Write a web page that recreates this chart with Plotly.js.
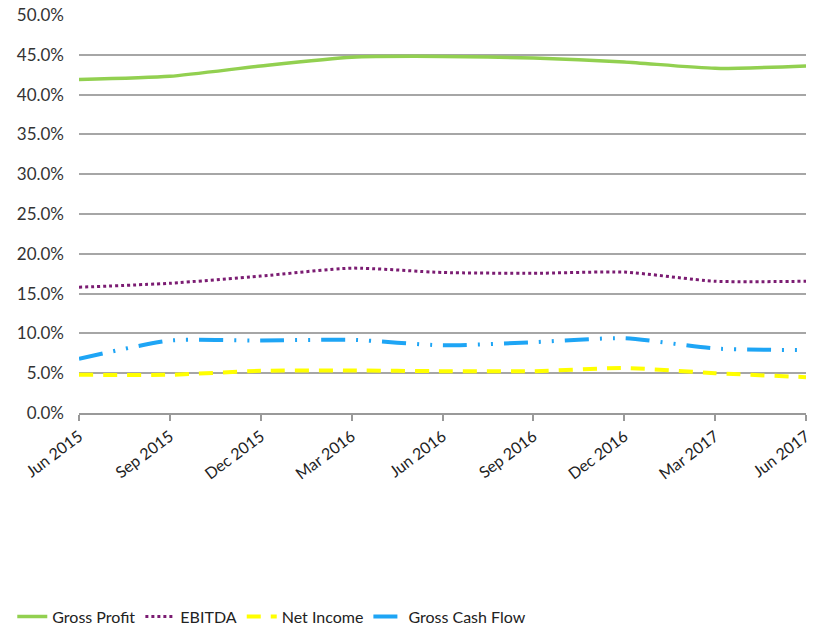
<!DOCTYPE html>
<html>
<head>
<meta charset="utf-8">
<script src="https://cdn.plot.ly/plotly-3.0.1.min.js"></script>
<style>html,body{margin:0;padding:0;background:#fff;}#chart{width:819px;height:628px;}</style>
</head>
<body>
<div id="chart"></div>
<script>
const categories = ["Jun 2015","Sep 2015","Dec 2015","Mar 2016","Jun 2016","Sep 2016","Dec 2016","Mar 2017","Jun 2017"];
const grossProfit = [0.419,0.423,0.436,0.447,0.448,0.446,0.441,0.433,0.436];
const ebitda = [0.158,0.163,0.172,0.182,0.1765,0.1755,0.177,0.1655,0.1655];
const netIncome = [0.048,0.048,0.053,0.0535,0.0525,0.0525,0.0565,0.050,0.045];
const grossCashFlow = [0.068,0.091,0.091,0.092,0.085,0.089,0.094,0.081,0.079];
const yTicks = [0,0.05,0.10,0.15,0.20,0.25,0.30,0.35,0.40,0.45,0.50];

const font = "Lato, 'Open Sans', sans-serif";
function tr(name, y, color, width, dash) {
  return {x: categories, y: y, name: name, type: 'scatter', mode: 'lines',
    line: {color: color, width: width, dash: dash, shape: 'spline', smoothing: 0.6},
    hoverinfo: 'skip'};
}
const data = [
  tr('Gross Profit', grossProfit, '#92D050', 3.5, 'solid'),
  tr('EBITDA', ebitda, '#7B1C72', 3, '3px,3px'),
  tr('Net Income', netIncome, '#FFFF00', 4, '14px,10px'),
  tr('Gross Cash Flow', grossCashFlow, '#1EA5F5', 4, '24px,11px,2px,11px,2px,11px')
];
const layout = {
  width: 819, height: 628,
  margin: {l: 79, r: 13, t: 15, b: 215},
  paper_bgcolor: '#fff', plot_bgcolor: '#fff',
  font: {family: font, size: 15, color: '#404040'},
  showlegend: true,
  legend: {orientation: 'h', xref: 'container', yref: 'container', x: 0.015, y: 0.018,
    xanchor: 'left', yanchor: 'middle', font: {size: 16, color: '#222'}, traceorder: 'normal'},
  xaxis: {type: 'category', range: [0, 8], showgrid: false, zeroline: false,
    showline: true, linecolor: '#999', linewidth: 2,
    ticks: 'outside', ticklen: 6, tickwidth: 2, tickcolor: '#999',
    tickangle: -37, tickfont: {size: 16, color: '#222'}},
  xaxis2: {overlaying: 'x', range: [0, 8], dtick: 1, tick0: 0, showgrid: false, zeroline: false,
    ticks: 'inside', ticklen: 6, tickwidth: 2, tickcolor: '#999', showticklabels: false,
    showline: false, anchor: 'y', side: 'bottom'},
  yaxis: {range: [0, 0.5], tickvals: yTicks, tickformat: '.1%', showgrid: true,
    gridcolor: '#A6A6A6', gridwidth: 2, zeroline: false, showline: false,
    ticks: '', ticklabelstandoff: 14, tickfont: {size: 17, color: '#333'}}
};
Plotly.newPlot('chart', data, layout, {staticPlot: true});
</script>
</body>
</html>
